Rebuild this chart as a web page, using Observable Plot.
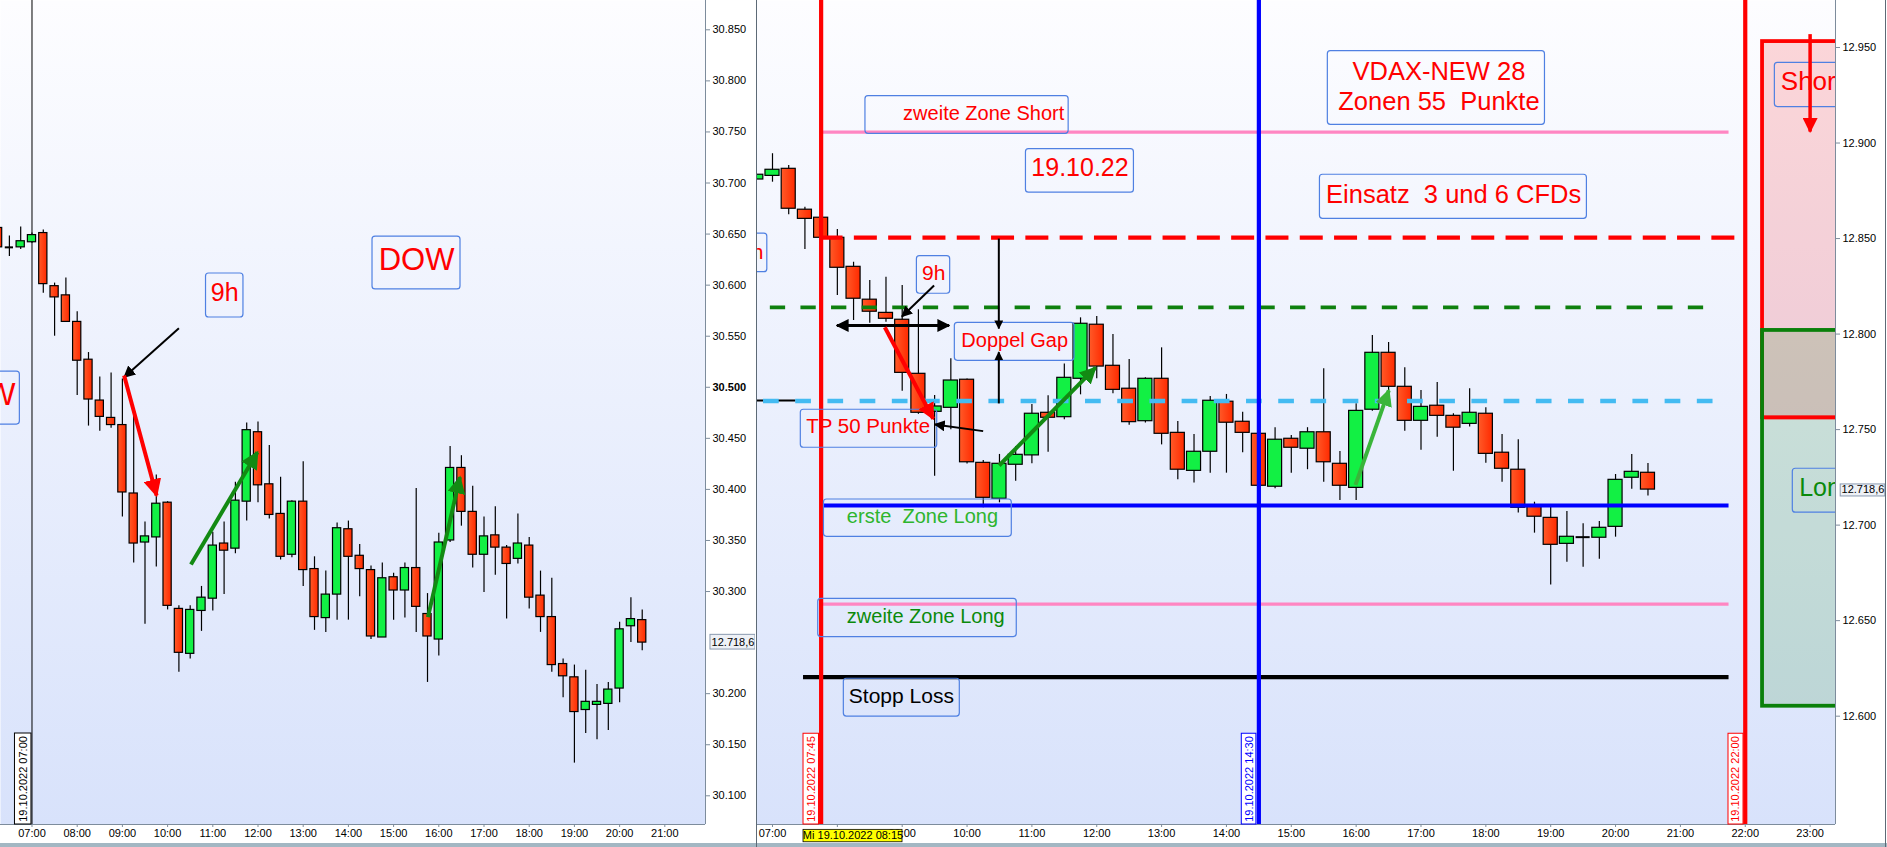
<!DOCTYPE html>
<html>
<head>
<meta charset="utf-8">
<script src="https://cdn.jsdelivr.net/npm/d3@7"></script>
<script src="https://cdn.jsdelivr.net/npm/@observablehq/plot@0.6"></script>
<style>
  html, body { margin: 0; padding: 0; width: 1887px; height: 847px; overflow: hidden; background: #a3b7c3; }
  #wrap { position: relative; width: 1887px; height: 843px; background: #ffffff; }
  #dow { position: absolute; left: 0; top: 0; }
  #dax { position: absolute; left: 755px; top: 0; }
  .sep { position: absolute; top: 0; width: 1px; height: 847px; background: #5d6a76; }
  svg text { white-space: pre; }
</style>
</head>
<body>
<div id="wrap"><div id="dow"></div><div id="dax"></div></div>
<div class="sep" style="left:756px"></div>
<div class="sep" style="left:1885px"></div>
<script>
// ---------- DOW, 15-minute candles, 19.10.2022 ----------
const dowTimes = ["06:15","06:30","06:45","07:00","07:15","07:30","07:45","08:00","08:15","08:30","08:45","09:00","09:15","09:30","09:45","10:00","10:15","10:30","10:45","11:00","11:15","11:30","11:45","12:00","12:15","12:30","12:45","13:00","13:15","13:30","13:45","14:00","14:15","14:30","14:45","15:00","15:15","15:30","15:45","16:00","16:15","16:30","16:45","17:00","17:15","17:30","17:45","18:00","18:15","18:30","18:45","19:00","19:15","19:30","19:45","20:00","20:15","20:30"];
const dowOpen  = [30656,30637,30637,30642,30651,30599,30590,30564,30527,30487,30470,30463,30396,30348,30353,30387,30283,30239,30281,30293,30347,30342,30388,30456,30405,30376,30336,30388,30322,30274,30297,30361,30335,30321,30255,30314,30301,30323,30278,30253,30350,30421,30378,30336,30355,30343,30332,30345,30296,30275,30229,30216,30184,30189,30190,30205,30266,30272];
const dowHigh  = [30660,30648,30657,30651,30654,30602,30607,30574,30534,30510,30514,30508,30472,30368,30414,30388,30286,30286,30305,30358,30368,30407,30465,30466,30443,30412,30389,30427,30334,30320,30367,30369,30346,30325,30328,30318,30328,30401,30298,30357,30442,30433,30403,30373,30383,30345,30376,30353,30320,30313,30234,30228,30223,30209,30211,30270,30294,30282];
const dowLow   = [30633,30628,30635,30641,30592,30550,30564,30492,30462,30457,30460,30373,30328,30268,30324,30282,30221,30234,30261,30281,30297,30337,30369,30387,30371,30331,30333,30305,30262,30260,30272,30272,30295,30253,30255,30272,30274,30260,30211,30237,30348,30364,30323,30299,30316,30273,30327,30283,30260,30221,30196,30132,30161,30155,30164,30191,30250,30242];
const dowClose = [30637,30637,30643,30649,30601,30588,30564,30526,30488,30471,30463,30397,30347,30354,30386,30286,30240,30282,30294,30345,30340,30389,30458,30404,30375,30334,30388,30321,30275,30297,30362,30334,30322,30256,30313,30301,30323,30285,30256,30348,30421,30378,30336,30354,30343,30327,30347,30294,30275,30228,30217,30182,30192,30192,30204,30263,30273,30250];
const dowHourTicks = ["07:00","08:00","09:00","10:00","11:00","12:00","13:00","14:00","15:00","16:00","17:00","18:00","19:00","20:00","21:00"];
const dowPriceTicks = [30100,30150,30200,30300,30350,30400,30450,30550,30600,30650,30700,30750,30800,30850];
const dowBoldTick = [30500];

// ---------- DAX, 15-minute candles, 19.10.2022 ----------
const daxTimes = ["06:45","07:00","07:15","07:30","07:45","08:00","08:15","08:30","08:45","09:00","09:15","09:30","09:45","10:00","10:15","10:30","10:45","11:00","11:15","11:30","11:45","12:00","12:15","12:30","12:45","13:00","13:15","13:30","13:45","14:00","14:15","14:30","14:45","15:00","15:15","15:30","15:45","16:00","16:15","16:30","16:45","17:00","17:15","17:30","17:45","18:00","18:15","18:30","18:45","19:00","19:15","19:30","19:45","20:00","20:15","20:30"];
const daxOpen  = [12880.9,12882.8,12886.5,12865.1,12860.9,12850.4,12835.2,12818,12811.1,12807.5,12779.2,12759.3,12761.4,12776.1,12732.6,12713.8,12731.6,12736.5,12758.8,12756.5,12776.6,12804.9,12783.4,12771.4,12754.4,12776.6,12748.3,12728.4,12738.4,12764.6,12754.1,12747.8,12720.1,12745.2,12740,12748.6,12732.1,12719.5,12760.4,12790.2,12772.4,12754.6,12762.5,12757.2,12753,12758.3,12737.9,12729,12709.6,12703.8,12690.2,12693.7,12693.4,12699.1,12724.8,12727.4];
const daxHigh  = [12884,12894.4,12888.2,12866.4,12862,12854.7,12837.6,12828,12829.8,12825.4,12812.7,12767.9,12787.1,12776.5,12733.8,12737,12741.2,12763.1,12767.7,12784.4,12808.5,12809.2,12799.8,12786.7,12777.1,12792.8,12754.2,12747.4,12767.3,12768.4,12759.1,12749,12751,12746.9,12751,12781.8,12738.5,12763.5,12799.3,12795.6,12782.4,12770.5,12774.7,12758.3,12771.4,12761.4,12747.4,12744.7,12712,12709.4,12707.1,12700.7,12701.9,12726.5,12737,12732.3];
const daxLow   = [12880,12879.5,12862.4,12844.3,12849,12820.2,12807.1,12805.7,12806.2,12770.1,12758,12725.6,12749.9,12732,12709.1,12711.7,12723,12732.1,12738.2,12755.1,12768.2,12776.6,12768.7,12752.3,12753.4,12742,12723.7,12722,12727.2,12727.2,12737.9,12718,12719,12727.2,12729,12722.5,12712.9,12712.9,12759.6,12770,12749.2,12739.2,12746,12728.2,12751.3,12732.4,12722.5,12706.3,12695.8,12668.6,12680.6,12678,12682.2,12693.7,12718.8,12715.2];
const daxClose = [12883.4,12886,12865.6,12860.3,12850.4,12834.7,12818.5,12811.7,12808,12779.7,12758.8,12762.1,12775.7,12732.9,12714.3,12732.1,12736.8,12758.3,12756.2,12777.1,12805.4,12783,12770.8,12753.9,12776.6,12747.8,12729,12738.4,12765.1,12753.6,12748.3,12720.6,12744.7,12740.5,12748.6,12732.9,12720.6,12759.8,12790.2,12772.4,12754.6,12761.9,12757.2,12751,12758.8,12737.3,12729.5,12709.1,12704.4,12689.7,12693.9,12693.7,12698.6,12723.7,12727.9,12718.6];
const daxHourTicks = ["07:00","08:00","09:00","10:00","11:00","12:00","13:00","14:00","15:00","16:00","17:00","18:00","19:00","20:00","21:00","22:00","23:00"];
const daxHiddenTickLabel = "08:00"; // sits under the cursor-time flag
const daxPriceTicks = [12600,12650,12700,12750,12800,12850,12900,12950];
const daxLast = 12718.6;

// Trading levels drawn across the DAX session
const daxLevels = [
  {p: 12765.2, t1: "06:30", t2: "07:21.7", color: "#000000", w: 2,   dash: null},
  {p: 12905.7, t1: "07:44", t2: "21:45",   color: "#ff86c2", w: 3.2, dash: null},
  {p: 12850.5, t1: "07:44", t2: "22:00",   color: "#ff0000", w: 4.3, dash: "23 11.3"},
  {p: 12814,   t1: "06:58", t2: "21:30",   color: "#0e800e", w: 3.7, dash: "15.3 15.3"},
  {p: 12765,   t1: "06:51.7", t2: "21:45", color: "#44bbf2", w: 4.6, dash: "15.7 16.5"},
  {p: 12710.3, t1: "07:45", t2: "21:45",   color: "#0000ff", w: 4,   dash: null},
  {p: 12658.6, t1: "07:44", t2: "21:45",   color: "#ff86c2", w: 3.2, dash: null},
  {p: 12620.4, t1: "07:28.7", t2: "21:45", color: "#000000", w: 4.2, dash: null}
];
const daxMarkers = [
  {t: "07:45", color: "#ff0000", label: "19.10.2022 07:45", b1: "07:28.7", b2: "07:43",   bt: "07:35.8"},
  {t: "14:30", color: "#0000ff", label: "19.10.2022 14:30", b1: "14:14.2", b2: "14:27.7", bt: "14:21"},
  {t: "22:00", color: "#ff0000", label: "19.10.2022 22:00", b1: "21:44.5", b2: "21:58.4", bt: "21:51.4"}
];
const daxZones = [
  {t1: "22:16", t2: "24:40", p1: 12756.2, p2: 12953.1, color: "#ff0000"},
  {t1: "22:16", t2: "24:40", p1: 12605.2, p2: 12801.9, color: "#0a800a"}
];
const daxBoxes = [
  {t1: "08:26",   t2: "11:34",   p1: 12904.8, p2: 12924.5},
  {t1: "10:54.5", t2: "12:34.4", p1: 12874,   p2: 12896.8},
  {t1: "15:33.8", t2: "18:54.7", p1: 12909.5, p2: 12948.1},
  {t1: "15:26.5", t2: "19:33.5", p1: 12860.3, p2: 12883.4},
  {t1: "09:48.7", t2: "11:39.4", p1: 12786,   p2: 12805.9},
  {t1: "09:13.6", t2: "09:44.4", p1: 12821.1, p2: 12840.8},
  {t1: "07:26.2", t2: "09:32.4", p1: 12740.5, p2: 12760.4},
  {t1: "07:47.6", t2: "10:41.4", p1: 12693.9, p2: 12713.4},
  {t1: "07:42.3", t2: "10:46",   p1: 12641.4, p2: 12661.4},
  {t1: "08:06",   t2: "09:53.3", p1: 12599.8, p2: 12619.6},
  {t1: "06:30",   t2: "06:55.2", p1: 12832.4, p2: 12852.6},
  {t1: "22:27.4", t2: "24:40",   p1: 12918.8, p2: 12942},
  {t1: "22:44",   t2: "24:40",   p1: 12706.5, p2: 12729.5}
];
const daxNotes = [
  {s: "zweite Zone Short", t: "11:30",   p: 12915.5, color: "#ff0000", size: 20,   anchor: "end"},
  {s: "19.10.22",          t: "11:44.5", p: 12886.9, color: "#ff0000", size: 25},
  {s: "VDAX-NEW 28\nZonen 55  Punkte", t: "17:16.6", p: 12930.3, color: "#ff0000", size: 25.5, lh: 1.18},
  {s: "Einsatz  3 und 6 CFDs", t: "17:30.2", p: 12873, color: "#ff0000", size: 25.5},
  {s: "Doppel Gap",        t: "10:44.1", p: 12796.8, color: "#ff0000", size: 20},
  {s: "9h",                t: "09:29.2", p: 12832,   color: "#ff0000", size: 21},
  {s: "TP 50 Punkte",      t: "08:28.5", p: 12751.7, color: "#ff0000", size: 20.5},
  {s: "erste  Zone Long",  t: "08:08.8", p: 12704.6, color: "#2db52d", size: 20, anchor: "start"},
  {s: "zweite Zone Long",  t: "08:08.8", p: 12652.3, color: "#0b8a0b", size: 20, anchor: "start"},
  {s: "Stopp Loss",        t: "08:10.6", p: 12610.4, color: "#000000", size: 21, anchor: "start"},
  {s: "9h",                t: "06:51.7", p: 12842.7, color: "#ff0000", size: 21, anchor: "end"},
  {s: "Short",             t: "22:32.9", p: 12932.1, color: "#ff0000", size: 26, anchor: "start"},
  {s: "Long",              t: "22:49.9", p: 12719.4, color: "#0b8a0b", size: 25, anchor: "start"}
];
const daxArrows = [
  {t1: "10:29.4", p1: 12850,   t2: "10:29.4", p2: 12802.9, color: "#000000", w: 2,   size: 9},
  {t1: "10:29.4", p1: 12763.7, t2: "10:29.4", p2: 12790.5, color: "#000000", w: 2,   size: 9},
  {t1: "07:59.6", p1: 12804.5, t2: "09:43.4", p2: 12804.5, color: "#000000", w: 3,   size: 13, both: true},
  {t1: "09:29.5", p1: 12825.4, t2: "08:59.8", p2: 12809.2, color: "#000000", w: 2,   size: 11},
  {t1: "08:43.9", p1: 12803.6, t2: "09:28.7", p2: 12755.7, color: "#ff0000", w: 4,   size: 17},
  {t1: "10:14.9", p1: 12749.2, t2: "09:30.2", p2: 12752.7, color: "#000000", w: 2,   size: 11},
  {t1: "10:29.7", p1: 12731.2, t2: "11:58.8", p2: 12782.4, color: "#138a13", w: 4,   size: 17},
  {t1: "15:59.4", p1: 12721.1, t2: "16:30.2", p2: 12770.5, color: "#3ab53a", w: 4,   size: 17},
  {t1: "23:00",   p1: 12957,   t2: "23:00",   p2: 12906,   color: "#ff0000", w: 3.5, size: 15}
];

// Annotations on the DOW panel
const dowBoxes = [
  {t1: "14:32",   t2: "16:28.8", p1: 30595.8, p2: 30647.6},
  {t1: "10:51",   t2: "11:40.7", p1: 30568.3, p2: 30611.4},
  {t1: "05:38",   t2: "06:43.9", p1: 30463.5, p2: 30515.4}
];
const dowNotes = [
  {s: "DOW", t: "15:30.5", p: 30624.6, color: "#ff0000", size: 31},
  {s: "9h",  t: "11:15.8", p: 30592.3, color: "#ff0000", size: 25},
  {s: "DOW", t: "06:38.1", p: 30492.7, color: "#ff0000", size: 31, anchor: "end"}
];
const dowArrows = [
  {t1: "10:15",   p1: 30557.8, t2: "09:02.3", p2: 30509.9, color: "#000000", w: 2, size: 12},
  {t1: "09:02.3", p1: 30511.5, t2: "09:45.4", p2: 30394.1, color: "#ff0000", w: 4, size: 18},
  {t1: "10:31",   p1: 30326.5, t2: "11:59.2", p2: 30436.4, color: "#138a13", w: 4, size: 18},
  {t1: "15:45.6", p1: 30274.9, t2: "16:28.1", p2: 30412,   color: "#138a13", w: 4, size: 18}
];

// ---------- helpers ----------
const FONT = "'Liberation Sans', Arial, sans-serif";
const BOX = "#4f80e2";
const AXIS = "#7d8c9c";
const GREEN = "#12f044";
const at = s => { const [h, m] = s.split(":"); return new Date(Date.UTC(2022, 9, 19) + (+h * 60 + +m) * 60000); };
const shift = (d, min) => new Date(+d + min * 60000);
const hhmm = d3.utcFormat("%H:%M");
const fmtPrice = v => d3.format(",.0f")(v).replace(/,/g, ".");
const fmtLast = v => d3.format(",.1f")(v).replace(/,/g, "#").replace(".", ",").replace(/#/g, ".");
const rowsOf = (times, o, h, l, c) => times.map((t, i) => ({t: at(t), o: o[i], h: h[i], l: l[i], c: c[i]}));

// filled triangular arrow head
function head(size) {
  return (color) => {
    const ns = "http://www.w3.org/2000/svg";
    const m = document.createElementNS(ns, "marker");
    m.setAttribute("viewBox", "0 -5 10 10");
    m.setAttribute("refX", "9");
    m.setAttribute("refY", "0");
    m.setAttribute("markerWidth", size);
    m.setAttribute("markerHeight", size);
    m.setAttribute("markerUnits", "userSpaceOnUse");
    m.setAttribute("orient", "auto-start-reverse");
    const p = document.createElementNS(ns, "path");
    p.setAttribute("d", "M0,-5L10,0L0,5Z");
    p.setAttribute("fill", color);
    p.setAttribute("stroke", "none");
    m.appendChild(p);
    return m;
  };
}

function candles(rows, halfMin, id) {
  const bodies = rows.filter(d => d.o !== d.c);
  const dojis = rows.filter(d => d.o === d.c);
  return [
    Plot.ruleX(rows, {x: "t", y1: "l", y2: "h", stroke: "#000", strokeWidth: 1.2, clip: true}),
    Plot.rect(bodies, {x1: d => shift(d.t, -halfMin), x2: d => shift(d.t, halfMin), y1: "o", y2: "c",
      fill: d => d.c > d.o ? GREEN : `url(#${id}Red)`, stroke: "#000", strokeWidth: 1.2, clip: true}),
    Plot.ruleY(dojis, {y: "o", x1: d => shift(d.t, -halfMin), x2: d => shift(d.t, halfMin), stroke: "#000", strokeWidth: 2, clip: true})
  ];
}
const boxMarks = boxes => Plot.rect(boxes, {x1: d => at(d.t1), x2: d => at(d.t2), y1: "p1", y2: "p2",
  fill: "none", stroke: BOX, strokeWidth: 1.2, rx: 3, clip: true});
const noteMarks = notes => notes.map(a => Plot.text([a], {x: d => at(d.t), y: "p", text: "s", fill: a.color,
  fontSize: a.size, textAnchor: a.anchor || "middle", lineHeight: a.lh || 1, fontFamily: FONT, clip: true}));
const arrowMarks = arrows => arrows.map(a => Plot.link([a], {x1: d => at(d.t1), y1: "p1", x2: d => at(d.t2), y2: "p2",
  stroke: a.color, strokeWidth: a.w, markerEnd: head(a.size), markerStart: a.both ? head(a.size) : undefined, clip: true}));

function addDefs(svg, id) {
  const defs = d3.select(svg).insert("defs", ":first-child");
  const bg = defs.append("linearGradient").attr("id", id + "Bg").attr("x1", 0).attr("y1", 0).attr("x2", 0).attr("y2", 1);
  bg.append("stop").attr("offset", 0).attr("stop-color", "#fdfdff");
  bg.append("stop").attr("offset", 1).attr("stop-color", "#d8e2fb");
  const red = defs.append("linearGradient").attr("id", id + "Red").attr("x1", 0).attr("y1", 0).attr("x2", 1).attr("y2", 0);
  red.append("stop").attr("offset", 0).attr("stop-color", "#ff5a28");
  red.append("stop").attr("offset", 1).attr("stop-color", "#ff2a00");
}

const baseStyle = {fontFamily: FONT, fontSize: "11px", background: "#ffffff", color: "#000"};

// ---------- DOW panel ----------
const dowRows = rowsOf(dowTimes, dowOpen, dowHigh, dowLow, dowClose);
const dowX = [at("06:18.2"), at("21:54")];
const dowY = [30071.9, 30878.7];
const dowChart = Plot.plot({
  width: 756, height: 843, marginTop: 0, marginLeft: 0, marginRight: 51, marginBottom: 19,
  x: {type: "utc", domain: dowX, label: null},
  y: {domain: dowY, label: null},
  color: {type: "identity"},
  style: baseStyle,
  marks: [
    Plot.frame({fill: "url(#dowBg)", stroke: "none"}),
    Plot.ruleX([at("07:00")], {stroke: "#000", strokeWidth: 1}),
    ...candles(dowRows, 5.45, "dow"),
    boxMarks(dowBoxes),
    ...noteMarks(dowNotes),
    ...arrowMarks(dowArrows),
    Plot.ruleX([dowX[1]], {stroke: AXIS, strokeWidth: 1}),
    Plot.ruleY([dowY[0]], {stroke: AXIS, strokeWidth: 1}),
    Plot.axisY({anchor: "right", ticks: dowPriceTicks, tickFormat: fmtPrice, tickSize: 4, tickPadding: 3, label: null, stroke: AXIS}),
    Plot.axisY({anchor: "right", ticks: dowBoldTick, tickFormat: fmtPrice, tickSize: 4, tickPadding: 3, label: null, fontWeight: "bold", stroke: AXIS}),
    Plot.axisX({anchor: "bottom", ticks: dowHourTicks.map(at), tickFormat: hhmm, tickSize: 3, tickPadding: 2, label: null, stroke: AXIS}),
    Plot.rect([{t1: "06:37.4", t2: "06:59.3"}], {x1: d => at(d.t1), x2: d => at(d.t2), y1: 30161, y2: dowY[0], fill: "#ffffff", stroke: "#000", strokeWidth: 1}),
    Plot.text(["19.10.2022 07:00"], {x: at("06:48.4"), y: 30116.5, text: d => d, rotate: -90, fill: "#000", fontSize: 11}),
    Plot.rect([{t1: "22:00.6", t2: "23:00.4"}], {x1: d => at(d.t1), x2: d => at(d.t2), y1: 30243.2, y2: 30257.6, fill: "#eef1f6", stroke: "#8a9ab0", strokeWidth: 1}),
    Plot.text([daxLast], {x: at("22:30.5"), y: 30250.4, text: fmtLast, fill: "#000", fontSize: 11})
  ]
});
addDefs(dowChart, "dow");
document.getElementById("dow").appendChild(dowChart);

// ---------- DAX panel ----------
const daxRows = rowsOf(daxTimes, daxOpen, daxHigh, daxLow, daxClose);
const daxX = [at("06:45.2"), at("23:23.5")];
const daxY = [12543.3, 12974.6];
const daxChart = Plot.plot({
  width: 1132, height: 843, marginTop: 0, marginLeft: 1, marginRight: 52, marginBottom: 19,
  x: {type: "utc", domain: daxX, label: null},
  y: {domain: daxY, label: null},
  color: {type: "identity"},
  style: baseStyle,
  marks: [
    Plot.frame({fill: "url(#daxBg)", stroke: "none"}),
    Plot.rect(daxZones, {x1: d => at(d.t1), x2: d => at(d.t2), y1: "p1", y2: "p2", fill: "color", fillOpacity: 0.15, clip: true}),
    Plot.rect(daxZones.slice(0, 1), {x1: d => at(d.t1), x2: d => at(d.t2), y1: "p1", y2: "p2", fill: "none", stroke: "color", strokeWidth: 3.8, clip: true}),
    Plot.rect(daxZones.slice(1), {x1: d => at(d.t1), x2: d => at(d.t2), y1: "p1", y2: "p2", fill: "none", stroke: "color", strokeWidth: 3.8, clip: true}),
    Plot.ruleY(daxZones.slice(0, 1), {y: "p1", x1: d => shift(at(d.t1), 2), x2: d => at(d.t2), stroke: "color", strokeWidth: 3, clip: true}),
    ...candles(daxRows, 6.5, "dax"),
    ...daxLevels.map(l => Plot.ruleY([l], {y: "p", x1: d => at(d.t1), x2: d => at(d.t2), stroke: l.color, strokeWidth: l.w, strokeDasharray: l.dash || undefined, clip: true})),
    Plot.ruleX(daxMarkers, {x: d => at(d.t), stroke: "color", strokeWidth: 4.2}),
    boxMarks(daxBoxes),
    ...noteMarks(daxNotes),
    ...arrowMarks(daxArrows),
    Plot.ruleX([daxX[1]], {stroke: AXIS, strokeWidth: 1}),
    Plot.ruleY([daxY[0]], {stroke: AXIS, strokeWidth: 1}),
    Plot.axisY({anchor: "right", ticks: daxPriceTicks, tickFormat: fmtPrice, tickSize: 4, tickPadding: 3, label: null, stroke: AXIS}),
    Plot.axisX({anchor: "bottom", ticks: daxHourTicks.map(at), tickFormat: d => hhmm(d) === daxHiddenTickLabel ? "" : hhmm(d), tickSize: 3, tickPadding: 2, label: null, stroke: AXIS}),
    Plot.rect(daxMarkers, {x1: d => at(d.b1), x2: d => at(d.b2), y1: 12590.8, y2: daxY[0], fill: "#ffffff", stroke: "color", strokeWidth: 1}),
    Plot.text(daxMarkers, {x: d => at(d.bt), y: 12567.1, text: "label", rotate: -90, fill: "color", fontSize: 11}),
    Plot.rect([{t1: "07:28.7", t2: "09:00.3"}], {x1: d => at(d.t1), x2: d => at(d.t2), y1: 12534, y2: 12540.5, fill: "#ffff00", stroke: "#000", strokeWidth: 0.8}),
    Plot.text(["Mi 19.10.2022 08:15"], {x: at("08:14.5"), y: 12537.3, text: d => d, fill: "#000", fontSize: 11}),
    Plot.rect([{t1: "23:28.3", t2: "24:09.6"}], {x1: d => at(d.t1), x2: d => at(d.t2), y1: 12715, y2: 12721.3, fill: "#eef1f6", stroke: "#8a9ab0", strokeWidth: 1}),
    Plot.text([daxLast], {x: at("23:48.9"), y: daxLast, text: fmtLast, fill: "#000", fontSize: 11})
  ]
});
addDefs(daxChart, "dax");
document.getElementById("dax").appendChild(daxChart);
</script>
</body>
</html>
